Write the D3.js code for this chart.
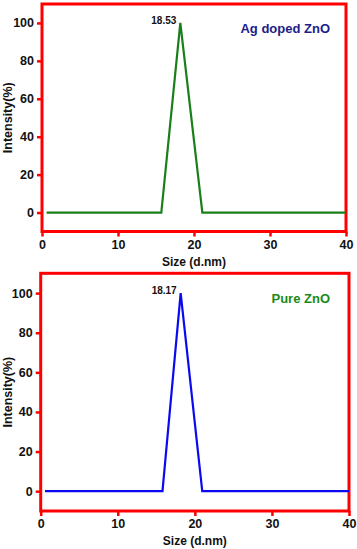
<!DOCTYPE html>
<html><head><meta charset="utf-8">
<script src="https://cdn.jsdelivr.net/npm/d3@7"></script>
<style>body{margin:0;background:#fff}svg{display:block}</style>
</head><body>
<script>
// Data
const agX = [0.6, 15.7, 18.2, 21.1, 40];
const agY = [0, 0, 100, 0, 0];
const pureX = [0.56, 15.8, 18.16, 20.96, 40];
const pureY = [0, 0, 100, 0, 0];
const xTicks = [0, 10, 20, 30, 40];
const yTicks = [0, 20, 40, 60, 80, 100];
const titles = ["Ag doped ZnO", "Pure ZnO"];
const peakLabels = ["18.53", "18.17"];

const W = 357, H = 549;
const svg = d3.select("body").append("svg").attr("width", W).attr("height", H);
const font = "Arial, 'Liberation Sans', sans-serif";

const panels = [
  {xs: agX, ys: agY, title: titles[0], peak: peakLabels[0], line: "#1a7f1a", tcol: "#1c1c8a",
   left: 42, right: 346, top: 4, bottom: 231.5},
  {xs: pureX, ys: pureY, title: titles[1], peak: peakLabels[1], line: "#0a0af0", tcol: "#1a8a1a",
   left: 40.7, right: 349, top: 273.3, bottom: 511}
];

panels.forEach(p => {
  const x = d3.scaleLinear().domain([0, 40]).range([p.left, p.right]);
  const y = d3.scaleLinear().domain([-10, 110]).range([p.bottom, p.top]);
  const g = svg.append("g");
  // frame
  g.append("rect").attr("x", p.left).attr("y", p.top)
    .attr("width", p.right - p.left).attr("height", p.bottom - p.top)
    .attr("fill", "none").attr("stroke", "#ff0000").attr("stroke-width", 3);
  // axes
  const xa = g.append("g").attr("transform", `translate(0,${p.bottom})`)
    .call(d3.axisBottom(x).tickValues(xTicks).tickSize(5).tickSizeOuter(0));
  const ya = g.append("g").attr("transform", `translate(${p.left},0)`)
    .call(d3.axisLeft(y).tickValues(yTicks).tickSize(5).tickSizeOuter(0));
  [xa, ya].forEach(a => {
    a.select(".domain").remove();
    a.selectAll("line").attr("stroke", "#ff0000").attr("stroke-width", 2.5);
    a.selectAll("text").attr("fill", "#111").style("font-family", font)
      .style("font-weight", "bold").style("font-size", "12.5px");
  });
  xa.selectAll("text").attr("dy", "0.9em").attr("y", 6);
  ya.selectAll("text").attr("x", -8);
  // axis titles
  g.append("text").attr("x", (p.left + p.right) / 2).attr("y", p.bottom + 34)
    .attr("text-anchor", "middle").style("font-family", font).style("font-weight", "bold")
    .style("font-size", "12px").attr("fill", "#111").text("Size (d.nm)");
  const cy = (p.top + p.bottom) / 2;
  g.append("text").attr("transform", `translate(12,${cy}) rotate(-90)`)
    .attr("text-anchor", "middle").style("font-family", font).style("font-weight", "bold")
    .style("font-size", "12.5px").attr("fill", "#111").text("Intensity(%)");
  // line
  const data = p.xs.map((v, i) => [v, p.ys[i]]);
  g.append("path").datum(data)
    .attr("d", d3.line().x(d => x(d[0])).y(d => y(d[1])))
    .attr("fill", "none").attr("stroke", p.line).attr("stroke-width", 2.2)
    .attr("stroke-linejoin", "miter");
  // peak label
  const peakIdx = p.ys.indexOf(d3.max(p.ys));
  g.append("text").attr("x", x(p.xs[peakIdx]) - 4).attr("y", y(p.ys[peakIdx]) + 1)
    .attr("text-anchor", "end").style("font-family", font).style("font-weight", "bold")
    .style("font-size", "10px").attr("fill", "#111").text(p.peak);
  // title
  g.append("text").attr("x", 330).attr("y", y(100) + 10)
    .attr("text-anchor", "end").style("font-family", font).style("font-weight", "bold")
    .style("font-size", "13px").attr("fill", p.tcol).text(p.title);
});
</script>
</body></html>
